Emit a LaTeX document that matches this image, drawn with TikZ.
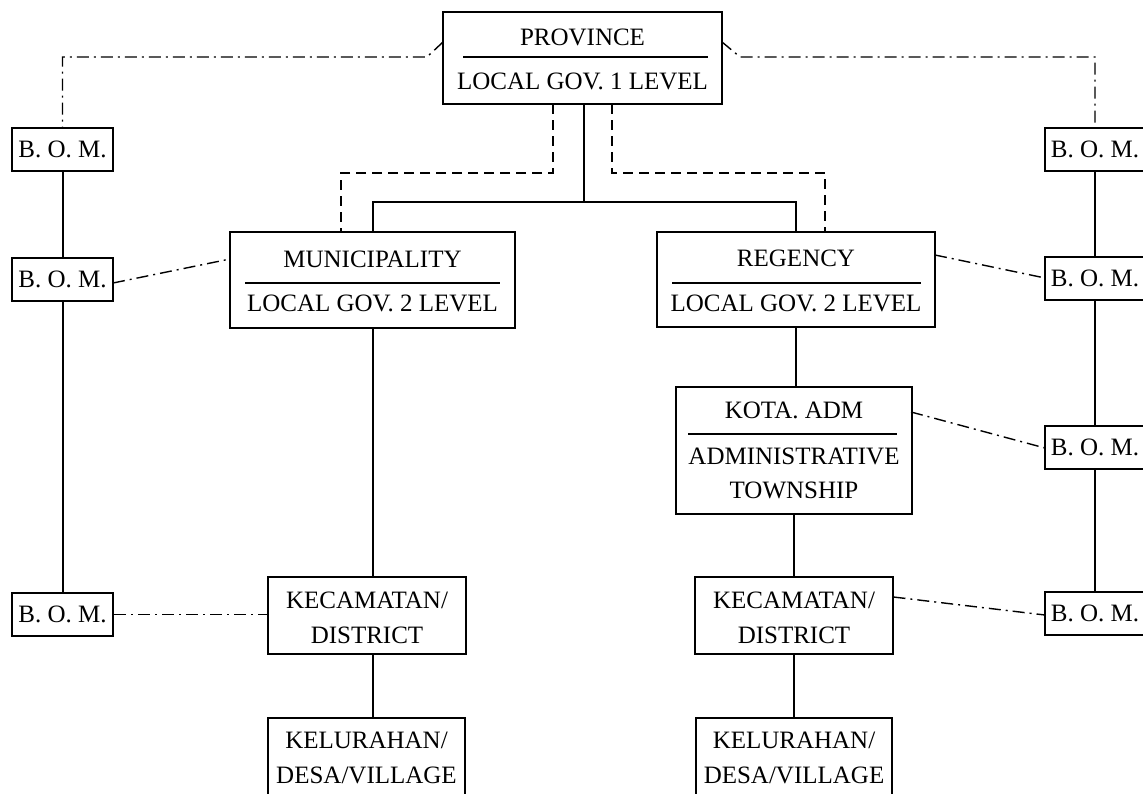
\documentclass[tikz,border=0pt]{standalone}
\usepackage{fontspec}
\setmainfont{Liberation Serif}
\begin{document}
\begin{tikzpicture}[x=0.5pt,y=-0.5pt,
  box/.style={draw,line width=1pt,inner sep=0pt,fill=none},
  lbl/.style={inner sep=0pt,font=\fontsize{12.5}{14}\selectfont},
  rulel/.style={line width=0.7pt},
  conn/.style={line width=1pt},
  dashconn/.style={line width=1pt,dash pattern=on 5pt off 3pt},
  dotconn/.style={line width=0.7pt,dash pattern=on 6pt off 2.5pt on 1pt off 2.5pt}]
\useasboundingbox (0,0) rectangle (1143,793);
\clip (0,0) rectangle (1143,793);
\fill[white] (0,0) rectangle (1143,793);

% Province
\node[box,minimum width=139.5pt,minimum height=46pt] (prov) at (582.5,58) {};
\node[lbl] (provt) at (582.5,37) {PROVINCE};
\node[lbl] (provb) at (582.5,81) {LOCAL GOV. 1 LEVEL};
\draw[rulel] (463,57) -- (708,57);

% Municipality
\node[box,minimum width=142.5pt,minimum height=48pt] (muni) at (372.5,280) {};
\node[lbl] (munit) at (372.5,259) {MUNICIPALITY};
\node[lbl] (munib) at (372.5,303) {LOCAL GOV. 2 LEVEL};
\draw[rulel] (245,283) -- (500,283);

% Regency
\node[box,minimum width=139pt,minimum height=47.5pt] (reg) at (796,279.5) {};
\node[lbl] (regt) at (796,258) {REGENCY};
\node[lbl] (regb) at (796,303) {LOCAL GOV. 2 LEVEL};
\draw[rulel] (672,283) -- (921,283);

% Kota Adm
\node[box,minimum width=118pt,minimum height=63.5pt] (kota) at (794,450.5) {};
\node[lbl] (kotat) at (794,410) {KOTA. ADM};
\node[lbl] (kotab) at (794,456) {ADMINISTRATIVE};
\node[lbl] (kotac) at (794,490) {TOWNSHIP};
\draw[rulel] (688,434) -- (897,434);

% Kecamatan
\node[box,minimum width=99pt,minimum height=38.5pt] (kecl) at (367,615.5) {};
\node[lbl] (keclt) at (367,600) {KECAMATAN/};
\node[lbl] (keclb) at (367,635) {DISTRICT};
\node[box,minimum width=99pt,minimum height=38.5pt] (kecr) at (794,615.5) {};
\node[lbl] (kecrt) at (794,600) {KECAMATAN/};
\node[lbl] (kecrb) at (794,635) {DISTRICT};

% Kelurahan
\node[box,minimum width=98.5pt,minimum height=56pt] (kell) at (366.5,774) {};
\node[lbl] (kellt) at (366.5,740) {KELURAHAN/};
\node[lbl] (kellb) at (366.5,775) {DESA/VILLAGE};
\node[box,minimum width=98pt,minimum height=56pt] (kelr) at (794,774) {};
\node[lbl] (kelrt) at (794,740) {KELURAHAN/};
\node[lbl] (kelrb) at (794,775) {DESA/VILLAGE};

% B.O.M. boxes
\foreach \n/\x/\y in {bl1/62.5/149.5, bl2/62.5/279.5, bl3/62.5/614.5,
                      br1/1095/149, br2/1095/278.5, br3/1095/447.5, br4/1095/613.5}{
  \node[box,minimum width=50.5pt,minimum height=21.5pt] (\n) at (\x,\y) {};
  \node[lbl] (\n t) at (\x,\y) {B. O. M.};
}

% coordinates
\coordinate (pl0) at (443,42);
\coordinate (pl1) at (427,57);
\coordinate (pl2) at (62.5,57);
\coordinate (pr0) at (722,42);
\coordinate (pr1) at (740,57);
\coordinate (pr2) at (1095,57);
\coordinate (dl0) at (553,104);
\coordinate (dl1) at (553,173);
\coordinate (dl2) at (341,173);
\coordinate (dl3) at (341,232);
\coordinate (dr0) at (612,104);
\coordinate (dr1) at (612,173);
\coordinate (dr2) at (825,173);
\coordinate (dr3) at (825,232);
\coordinate (s0) at (584,104);
\coordinate (s1) at (584,202);
\coordinate (sl) at (372.5,202);
\coordinate (sr) at (796,202);

% province to B.O.M. (dash-dot)
\draw[dotconn] (pl0) -- (pl1) -- (pl2) -- (bl1.north);
\draw[dotconn] (pr0) -- (pr1) -- (pr2) -- (br1.north);

% dashed supervision
\draw[dashconn] (dl0) -- (dl1) -- (dl2) -- (dl3);
\draw[dashconn] (dr0) -- (dr1) -- (dr2) -- (dr3);

% solid hierarchy
\draw[conn] (s0) -- (s1);
\draw[conn] (muni.north) -- (sl) -- (sr) -- (reg.north);
\draw[conn] (muni.south) -- (muni.south |- kecl.north);
\draw[conn] (muni.south |- kecl.south) -- (muni.south |- kell.north);
\draw[conn] (reg.south) -- (reg.south |- kota.north);
\draw[conn] (kota.south) -- (kota.south |- kecr.north);
\draw[conn] (kecr.south) -- (kecr.south |- kelr.north);

% B.O.M. columns
\draw[conn] (bl1.south) -- (bl2.north);
\draw[conn] (bl2.south) -- (bl3.north);
\draw[conn] (br1.south) -- (br2.north);
\draw[conn] (br2.south) -- (br3.north);
\draw[conn] (br3.south) -- (br4.north);

% dash-dot links
\coordinate (mw) at (230,259);
\coordinate (bl2e) at (113,283);
\draw[dotconn] (bl2e) -- (mw);
\coordinate (re) at (935,255);
\coordinate (br2w) at (1045,278);
\draw[dotconn] (re) -- (br2w);
\coordinate (ke) at (911,412);
\coordinate (br3w) at (1045,448);
\draw[dotconn] (ke) -- (br3w);
\coordinate (kre) at (893.5,597);
\coordinate (br4w) at (1045,615);
\draw[dotconn] (kre) -- (br4w);
\draw[dotconn] (bl3.east) -- (kecl.west |- bl3.east);
\end{tikzpicture}
\end{document}
